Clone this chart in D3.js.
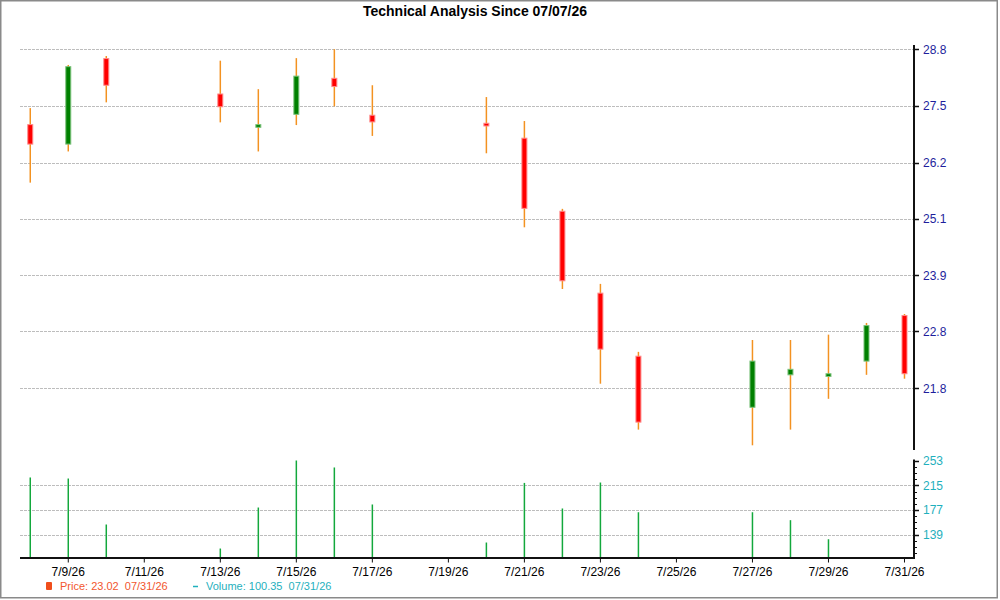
<!DOCTYPE html>
<html>
<head>
<meta charset="utf-8">
<script src="https://cdn.jsdelivr.net/npm/d3@7"></script>
<style>
  html, body { margin: 0; padding: 0; background: #fff; }
  svg { display: block; font-family: Arial, "Liberation Sans", sans-serif; }
  .pre { white-space: pre; }
</style>
</head>
<body>
<svg id="chart" width="1000" height="600"></svg>
<script>
// ---------- DATA ----------
const dates  = ["2026-07-08","2026-07-09","2026-07-10","2026-07-13","2026-07-14","2026-07-15","2026-07-16","2026-07-17",
                "2026-07-20","2026-07-21","2026-07-22","2026-07-23","2026-07-24","2026-07-27","2026-07-28","2026-07-29",
                "2026-07-30","2026-07-31"];
const opens  = [27.07, 26.64, 28.58, 27.76, 27.01, 27.30, 28.12, 27.28, 27.10, 26.77, 25.21, 23.57, 22.38, 21.46, 22.04, 22.01, 22.29, 23.14];
const highs  = [27.44, 28.43, 28.64, 28.53, 27.87, 28.59, 28.80, 27.96, 27.69, 27.15, 25.26, 23.75, 22.46, 22.68, 22.68, 22.78, 23.00, 23.17];
const lows   = [25.81, 26.48, 27.57, 27.12, 26.48, 27.06, 27.48, 26.82, 26.44, 24.88, 23.65, 21.88, 21.07, 20.80, 21.07, 21.61, 22.04, 21.97];
const closes = [26.64, 28.39, 27.96, 27.47, 27.07, 28.17, 27.93, 27.13, 27.04, 25.27, 23.81, 22.51, 21.20, 22.29, 22.14, 22.06, 22.95, 22.06];
const volumes = [227.3, 225.7, 154.5, 117.3, 180.8, 253.6, 242.8, 185.5, 126.6, 218.9, 179.3, 219.5, 173.5, 173.5, 161.2, 131.7, 103.0, 100.35];

const priceTicks  = [21.8, 22.84, 23.92, 25.06, 26.24, 27.49, 28.8];
const volumeTicks = [139, 177, 215, 253];
const volumeMinorTicks = [110.5, 120, 129.5, 148.5, 158, 167.5, 186.5, 196, 205.5, 224.5, 234, 243.5];
const dateTicks = ["2026-07-09","2026-07-11","2026-07-13","2026-07-15","2026-07-17","2026-07-19",
                   "2026-07-21","2026-07-23","2026-07-25","2026-07-27","2026-07-29","2026-07-31"];

const titleText = "Technical Analysis Since 07/07/26";
const priceLegend = "Price: 23.02  07/31/26";
const volumeLegend = "Volume: 100.35  07/31/26";

// ---------- LAYOUT ----------
const svg = d3.select("#chart");
const left = 20, right = 914;
const priceTop = 45, priceBottom = 450;
const volTop = 460.5, volBottom = 557.5;

const parse = d3.utcParse("%Y-%m-%d");
const DAY = 864e5;
const x = d3.scaleUtc()
  .domain([new Date(parse(dates[0]).getTime() - 0.27 * DAY), new Date(parse(dates[dates.length-1]).getTime() + 0.25 * DAY)])
  .range([left, right]);
const yP = d3.scaleLog().domain([20.72, 28.90]).range([priceBottom, priceTop]);
const yV = d3.scaleLinear().domain([103.4, 253.6]).range([volBottom, volTop]).clamp(true);

const data = dates.map((d, i) => ({
  date: parse(d), open: opens[i], high: highs[i], low: lows[i], close: closes[i], volume: volumes[i]
}));

// frame
svg.append("rect").attr("x", 0.75).attr("y", 0.75).attr("width", 996.5).attr("height", 597)
  .attr("fill", "#fff").attr("stroke", "#8a8a8a").attr("stroke-width", 1.5);

// title
svg.append("text").attr("x", 475).attr("y", 16).attr("text-anchor", "middle")
  .attr("font-size", 14).attr("font-weight", "bold").attr("fill", "#000").text(titleText);

// price gridlines
svg.append("g").selectAll("line").data(priceTicks).join("line")
  .attr("x1", left).attr("x2", right)
  .attr("y1", d => Math.round(yP(d)) + 0.5).attr("y2", d => Math.round(yP(d)) + 0.5)
  .attr("stroke", "#bdbdbd").attr("stroke-width", 1).attr("stroke-dasharray", "3,1");

// volume gridlines
svg.append("g").selectAll("line").data(volumeTicks.filter(v => v < 250)).join("line")
  .attr("x1", left).attr("x2", right)
  .attr("y1", d => Math.round(yV(d)) + 0.5).attr("y2", d => Math.round(yV(d)) + 0.5)
  .attr("stroke", "#bdbdbd").attr("stroke-width", 1).attr("stroke-dasharray", "3,1");

// volume bars
svg.append("g").selectAll("line").data(data).join("line")
  .attr("x1", d => x(d.date)).attr("x2", d => x(d.date))
  .attr("y1", volBottom).attr("y2", d => yV(d.volume))
  .attr("stroke", "#13a83c").attr("stroke-width", 1.5);

// candles: wicks
const candles = svg.append("g");
candles.selectAll("line.wick").data(data).join("line").attr("class", "wick")
  .attr("x1", d => x(d.date)).attr("x2", d => x(d.date))
  .attr("y1", d => yP(d.high)).attr("y2", d => yP(d.low))
  .attr("stroke", "#f39221").attr("stroke-width", 1.5);
// bodies
candles.selectAll("rect.body").data(data).join("rect").attr("class", "body")
  .attr("x", d => x(d.date) - 2.5)
  .attr("width", 5)
  .attr("y", d => {
    const t = yP(Math.max(d.open, d.close)), b = yP(Math.min(d.open, d.close));
    return (b - t < 2) ? (t + b) / 2 - 1 : t;
  })
  .attr("height", d => Math.max(2, yP(Math.min(d.open, d.close)) - yP(Math.max(d.open, d.close))))
  .attr("fill", d => d.close >= d.open ? "#008000" : "#ff0000")
  .attr("stroke", d => d.close >= d.open ? "#7cc27c" : "#ff8a8a")
  .attr("stroke-width", 1);

// price axis
const pAxis = svg.append("g");
pAxis.append("line").attr("x1", right).attr("x2", right).attr("y1", priceTop).attr("y2", priceBottom)
  .attr("stroke", "#111").attr("stroke-width", 2);
pAxis.selectAll("line.tick").data(priceTicks).join("line").attr("class", "tick")
  .attr("x1", right).attr("x2", right + 5)
  .attr("y1", d => Math.round(yP(d)) + 0.5).attr("y2", d => Math.round(yP(d)) + 0.5)
  .attr("stroke", "#111").attr("stroke-width", 1.5);
pAxis.selectAll("text").data(priceTicks).join("text")
  .attr("x", right + 9).attr("y", d => yP(d) + 4.5)
  .attr("font-size", 12).attr("fill", "#1e1e9c")
  .text(d => d3.format(".1f")(d));

// volume axis
const vAxis = svg.append("g");
vAxis.append("line").attr("x1", right).attr("x2", right).attr("y1", volTop - 1).attr("y2", volBottom)
  .attr("stroke", "#111").attr("stroke-width", 2);
vAxis.selectAll("line.tick").data(volumeTicks).join("line").attr("class", "tick")
  .attr("x1", right).attr("x2", right + 5)
  .attr("y1", d => Math.round(yV(d)) + 0.5).attr("y2", d => Math.round(yV(d)) + 0.5)
  .attr("stroke", "#111").attr("stroke-width", 1.5);
vAxis.selectAll("line.minor").data(volumeMinorTicks).join("line").attr("class", "minor")
  .attr("x1", right).attr("x2", right + 3)
  .attr("y1", d => Math.round(yV(d)) + 0.5).attr("y2", d => Math.round(yV(d)) + 0.5)
  .attr("stroke", "#111").attr("stroke-width", 1);
vAxis.selectAll("text").data(volumeTicks).join("text")
  .attr("x", right + 9).attr("y", d => yV(d) + 4.5)
  .attr("font-size", 12).attr("fill", "#1fb0bd")
  .text(d => d);

// x axis
const xAxis = svg.append("g");
xAxis.append("line").attr("x1", left).attr("x2", right + 1).attr("y1", volBottom + 0.5).attr("y2", volBottom + 0.5)
  .attr("stroke", "#111").attr("stroke-width", 2);
const fmt = d3.utcFormat("%-m/%-d/%y");
xAxis.selectAll("line.tick").data(dateTicks.map(parse)).join("line").attr("class", "tick")
  .attr("x1", d => x(d)).attr("x2", d => x(d))
  .attr("y1", volBottom + 1).attr("y2", volBottom + 5)
  .attr("stroke", "#111").attr("stroke-width", 1);
xAxis.selectAll("text").data(dateTicks.map(parse)).join("text")
  .attr("x", d => x(d)).attr("y", 576).attr("text-anchor", "middle")
  .attr("font-size", 12).attr("fill", "#000")
  .text(d => fmt(d));

// legend
const lg = svg.append("g");
lg.append("rect").attr("x", 46).attr("y", 582).attr("width", 6).attr("height", 8).attr("rx", 1)
  .attr("fill", "#f04e1c");
lg.append("text").attr("class", "pre").attr("x", 60).attr("y", 590).attr("font-size", 11)
  .attr("fill", "#f2562e").text(priceLegend);
lg.append("line").attr("x1", 193).attr("x2", 198).attr("y1", 586.5).attr("y2", 586.5)
  .attr("stroke", "#1fb0bd").attr("stroke-width", 1.5);
lg.append("text").attr("class", "pre").attr("x", 206).attr("y", 590).attr("font-size", 11)
  .attr("fill", "#1fb0bd").text(volumeLegend);
</script>
</body>
</html>
